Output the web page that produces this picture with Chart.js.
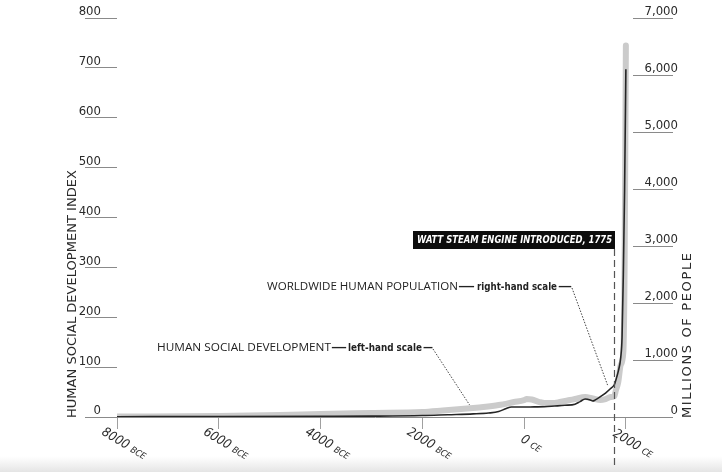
<!DOCTYPE html>
<html>
<head>
<meta charset="utf-8">
<script src="https://cdn.jsdelivr.net/npm/chart.js@4.4.1/dist/chart.umd.min.js"></script>
<style>
  html, body { margin: 0; padding: 0; background: #ffffff; }
  #wrap { width: 722px; height: 472px; position: relative; }
</style>
</head>
<body>
<div id="wrap"><canvas id="c" width="722" height="472"></canvas></div>
<script>
// ---------- DATA ----------
const xTickValues = [-8000, -6000, -4000, -2000, 0, 2000];
const xTickNumbers = ['8000', '6000', '4000', '2000', '0', '2000'];
const xTickEras = ['BCE', 'BCE', 'BCE', 'BCE', 'CE', 'CE'];

const leftTickValues = [0, 100, 200, 300, 400, 500, 600, 700, 800];
const leftTickLabels = ['0', '100', '200', '300', '400', '500', '600', '700', '800'];
const rightTickValues = [0, 1000, 2000, 3000, 4000, 5000, 6000, 7000];
const rightTickLabels = ['0', '1,000', '2,000', '3,000', '4,000', '5,000', '6,000', '7,000'];

// Human social development (left-hand scale)
const sdYears  = [-8000, -6000, -4800, -4000, -3000, -2000, -1600, -1000, -800, -500, -200, 0, 50, 150, 300, 400, 550, 700, 900, 1000, 1200, 1350, 1500, 1600, 1700, 1775, 1800, 1850, 1900, 1950, 1975, 2000];
const sdValues = [1, 2, 4, 6, 8, 10, 13, 18, 20, 24, 30, 34, 36, 35, 30, 28, 28, 30, 34, 36, 40, 37, 34, 36, 40, 42, 52, 70, 105, 130, 300, 745];

// Worldwide human population, millions (right-hand scale)
const popYears  = [-8000, -6000, -4000, -3000, -2000, -1500, -1000, -700, -500, -350, -250, 0, 200, 400, 600, 800, 1000, 1100, 1200, 1300, 1350, 1400, 1500, 1600, 1700, 1775, 1800, 1850, 1900, 1925, 1950, 1975, 2000];
const popValues = [5, 8, 12, 15, 25, 40, 55, 70, 95, 150, 175, 175, 178, 180, 192, 205, 225, 270, 316, 300, 280, 300, 356, 420, 500, 570, 640, 800, 1050, 1400, 2500, 4000, 6100];

// ---------- FONTS ----------
const NARROW = "'Liberation Sans Narrow', 'DejaVu Sans Condensed', sans-serif";
const SANS = "'Open Sans', 'DejaVu Sans', sans-serif";
const COND = "'DejaVu Sans Condensed', 'Liberation Sans Narrow', sans-serif";

function fitText(ctx, text, x, y, width, font, color) {
  ctx.save();
  ctx.font = font;
  ctx.fillStyle = color;
  ctx.textBaseline = 'middle';
  ctx.textAlign = 'left';
  const w = ctx.measureText(text).width;
  ctx.translate(x, y);
  ctx.scale(width / w, 1);
  ctx.fillText(text, 0, 0);
  ctx.restore();
}

function spacedVertical(ctx, text, cx, yStart, length, font, color) {
  ctx.save();
  ctx.font = font;
  ctx.fillStyle = color;
  ctx.textBaseline = 'middle';
  ctx.textAlign = 'left';
  const w0 = ctx.measureText(text).width;
  const sp = (length - w0) / (text.length - 1);
  if ('letterSpacing' in ctx) ctx.letterSpacing = sp.toFixed(2) + 'px';
  ctx.translate(cx, yStart);
  ctx.rotate(-Math.PI / 2);
  ctx.fillText(text, 0, 0);
  ctx.restore();
}

const decor = {
  id: 'decor',
  beforeDraw(chart) {
    const ctx = chart.ctx;
    ctx.save();
    ctx.fillStyle = '#ffffff';
    ctx.fillRect(0, 0, chart.width, chart.height);
    const g = ctx.createLinearGradient(0, 456, 0, 472);
    g.addColorStop(0, 'rgba(232,232,232,0)');
    g.addColorStop(1, 'rgba(228,228,228,1)');
    ctx.fillStyle = g;
    ctx.fillRect(0, 456, chart.width, 16);
    ctx.restore();
  },
  afterDraw(chart) {
    const ctx = chart.ctx;
    const xs = chart.scales.x, yL = chart.scales.yL, yR = chart.scales.yR;

    // axis titles
    spacedVertical(ctx, 'HUMAN SOCIAL DEVELOPMENT INDEX', 73, 418, 248, "13px 'DejaVu Sans', sans-serif", '#2a2a2a');
    spacedVertical(ctx, 'MILLIONS OF PEOPLE', 688, 418, 165, "13px 'DejaVu Sans', sans-serif", '#2a2a2a');

    // x tick labels (rotated clockwise)
    xTickValues.forEach((v, i) => {
      const px = xs.getPixelForValue(v);
      ctx.save();
      ctx.fillStyle = '#2a2a2a';
      ctx.textBaseline = 'middle';
      ctx.textAlign = 'left';
      const f1 = "italic 13px " + NARROW;
      const f2 = "italic 9px " + NARROW;
      ctx.font = f1;
      const w1 = ctx.measureText(xTickNumbers[i] + ' ').width;
      ctx.font = f2;
      const w2 = ctx.measureText(xTickEras[i]).width;
      const total = w1 + w2;
      ctx.translate(px + 7, 444);
      ctx.rotate(31 * Math.PI / 180);
      ctx.font = f1;
      ctx.fillText(xTickNumbers[i], -total / 2, 0);
      ctx.font = f2;
      ctx.fillText(xTickEras[i], -total / 2 + w1, 1);
      ctx.restore();
    });

    // Watt steam engine marker
    const xd = Math.round(xs.getPixelForValue(1775)) + 0.5;
    ctx.save();
    ctx.fillStyle = '#0d0d0d';
    ctx.fillRect(413, 231, xd + 0.5 - 413, 18);
    ctx.restore();
    fitText(ctx, 'WATT STEAM ENGINE INTRODUCED, 1775', 417, 240.5, 195, "italic bold 11px " + COND, '#ffffff');
    ctx.save();
    ctx.strokeStyle = '#555';
    ctx.lineWidth = 1.2;
    ctx.setLineDash([7, 4]);
    ctx.beginPath();
    ctx.moveTo(xd, 249);
    ctx.lineTo(xd, 468);
    ctx.stroke();
    ctx.restore();

    // labels with leaders
    const dark = '#222222';
    fitText(ctx, 'WORLDWIDE HUMAN POPULATION', 267, 287, 191, "11px " + SANS, dark);
    fitText(ctx, '—', 458, 287, 17, "bold 10px " + COND, dark);
    fitText(ctx, 'right-hand scale', 477, 287, 80, "bold 10px " + COND, dark);
    fitText(ctx, '—', 558, 287, 14, "bold 10px " + COND, dark);

    fitText(ctx, 'HUMAN SOCIAL DEVELOPMENT', 157, 348, 174, "11px " + SANS, dark);
    fitText(ctx, '—', 331, 348, 16, "bold 10px " + COND, dark);
    fitText(ctx, 'left-hand scale', 348, 348, 74, "bold 10px " + COND, dark);
    fitText(ctx, '—', 423, 348, 10, "bold 10px " + COND, dark);

    ctx.save();
    ctx.strokeStyle = '#444';
    ctx.lineWidth = 1;
    ctx.setLineDash([1.5, 1.5]);
    ctx.beginPath();
    ctx.moveTo(433, 349);
    ctx.lineTo(xs.getPixelForValue(-1070), yL.getPixelForValue(24));
    ctx.moveTo(572, 288);
    ctx.lineTo(xs.getPixelForValue(1640), yR.getPixelForValue(560));
    ctx.stroke();
    ctx.restore();
  }
};

const ctx = document.getElementById('c').getContext('2d');
new Chart(ctx, {
  type: 'line',
  data: {
    datasets: [
      {
        label: 'Worldwide human population',
        data: popYears.map((yr, i) => ({ x: yr, y: popValues[i] })),
        yAxisID: 'yR',
        borderColor: '#262626',
        borderWidth: 1.6,
        pointRadius: 0,
        cubicInterpolationMode: 'monotone',
        order: 0
      },
      {
        label: 'Human social development',
        data: sdYears.map((yr, i) => ({ x: yr, y: sdValues[i] })),
        yAxisID: 'yL',
        borderColor: '#cbcbcb',
        borderWidth: 6,
        pointRadius: 0,
        borderCapStyle: 'round',
        borderJoinStyle: 'round',
        cubicInterpolationMode: 'monotone',
        order: 1
      }
    ]
  },
  options: {
    responsive: false,
    animation: false,
    layout: { padding: { top: 18, left: 0, right: 44, bottom: 0 } },
    plugins: { legend: { display: false }, tooltip: { enabled: false } },
    scales: {
      x: {
        type: 'linear',
        min: -8000,
        max: 2140,
        afterBuildTicks: s => { s.ticks = xTickValues.map(v => ({ value: v })); },
        afterFit: s => { s.height = 55; },
        ticks: { display: false },
        grid: { drawOnChartArea: false, drawTicks: true, tickLength: 12, color: '#a0a0a0' },
        border: { display: true, color: '#8a8a8a', width: 1 }
      },
      yL: {
        position: 'left',
        min: 0,
        max: 800,
        afterBuildTicks: s => { s.ticks = leftTickValues.map(v => ({ value: v })); },
        afterFit: s => { s.width = 117; },
        ticks: {
          padding: -16,
          labelOffset: -6,
          color: '#2a2a2a',
          font: { family: NARROW, size: 13 },
          callback: (v, i) => leftTickLabels[i]
        },
        grid: { drawOnChartArea: false, drawTicks: true, tickLength: 32, color: '#8a8a8a' },
        border: { display: false }
      },
      yR: {
        position: 'right',
        min: 0,
        max: 7000,
        afterBuildTicks: s => { s.ticks = rightTickValues.map(v => ({ value: v })); },
        afterFit: s => { s.width = 45; },
        ticks: {
          crossAlign: 'far',
          labelOffset: -6,
          color: '#2a2a2a',
          font: { family: NARROW, size: 13 },
          callback: (v, i) => rightTickLabels[i]
        },
        grid: { drawOnChartArea: false, drawTicks: true, tickLength: 40, color: '#8a8a8a' },
        border: { display: false }
      }
    }
  },
  plugins: [decor]
});
</script>
</body>
</html>
